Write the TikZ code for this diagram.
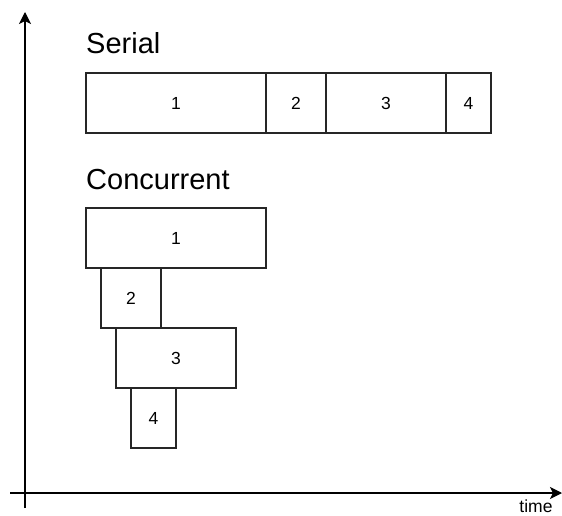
\documentclass[tikz,border=0pt]{standalone}
\usepackage{fontspec}
\setmainfont{Liberation Sans}
\usetikzlibrary{positioning, arrows.meta, calc}

\begin{document}
\begin{tikzpicture}[
  x=1pt, y=-1pt,
  font=\fontsize{17.5}{20}\selectfont,
  axis/.style={-{Stealth[length=12pt,width=12pt,inset=3pt]}, line width=1.3pt, draw=black},
  task/.style={draw=black!85, line width=1.2pt, minimum height=60pt, inner sep=0pt, outer sep=0pt},
  ttl/.style={font=\fontsize{29}{34}\selectfont, inner sep=0pt, anchor=base west}
]
\useasboundingbox (0,0) rectangle (562,516);

% ================= AXES =================
\coordinate (ybot) at (25,508);
\coordinate (ytop) at (25,12);
\coordinate (xbeg) at (10,493);
\coordinate (xend) at (562,493);
\draw[axis] (ybot) -- (ytop);
\draw[axis] (xbeg) -- (xend);
\node[inner sep=0pt, anchor=base] (tlab) at (536,512) {time};

% ================= SERIAL =================
\node[ttl] (stitle) at (86,54) {Serial};
\node[task, minimum width=180pt, anchor=north west] (s1) at (86,73) {1};
\node[task, minimum width=60pt, right=0pt of s1] (s2) {2};
\node[task, minimum width=120pt, right=0pt of s2] (s3) {3};
\node[task, minimum width=45pt, right=0pt of s3] (s4) {4};

% ================= CONCURRENT =================
\node[ttl] (ctitle) at (86,189) {Concurrent};
\node[task, minimum width=180pt, anchor=north west] (c1) at (86,208) {1};
\node[task, minimum width=60pt, anchor=north west] (c2) at ($(c1.south west)+(15,0)$) {2};
\node[task, minimum width=120pt, anchor=north west] (c3) at ($(c2.south west)+(15,0)$) {3};
\node[task, minimum width=45pt, anchor=north west] (c4) at ($(c3.south west)+(15,0)$) {4};
\end{tikzpicture}
\end{document}
